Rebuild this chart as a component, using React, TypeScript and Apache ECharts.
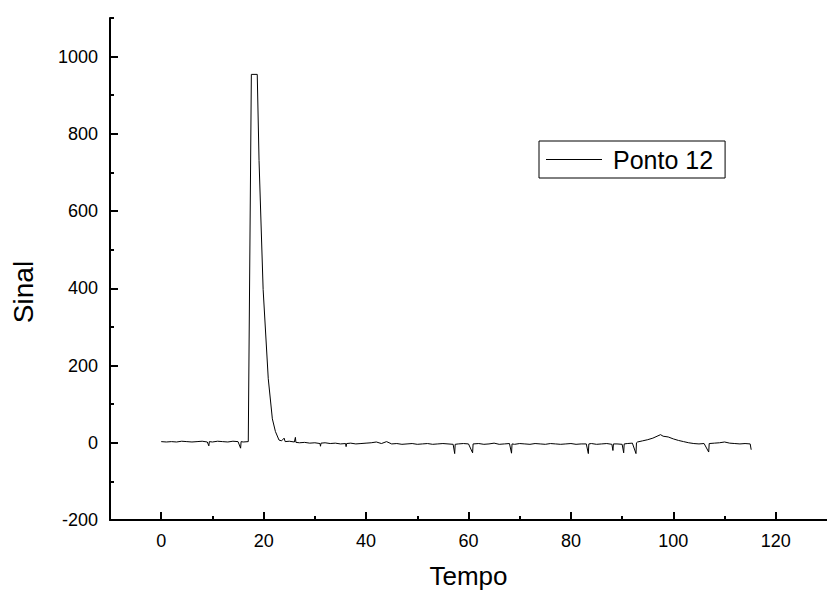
import React, { useEffect, useRef } from "react";
import * as echarts from "echarts";

// Time (x) and signal (y) values
const tempo: number[] = [
  0, 1, 2, 3, 4, 5, 6, 7, 8, 9,
  9.3, 9.4, 10, 11, 12, 13, 14, 15, 15.5, 15.6,
  16, 17, 17.6, 18.75, 19.1, 19.9, 20.9, 21.7, 22.3, 23,
  23.5, 24, 24.2, 25, 26, 26.2, 26.3, 27, 28, 29,
  30, 31, 31.1, 31.2, 32, 33, 34, 35, 36, 36.1,
  36.2, 37, 38, 39, 40, 41, 42, 43, 44, 45,
  46, 47, 48, 49, 50, 51, 52, 53, 54, 55,
  56, 57, 57.3, 57.4, 58, 59, 60, 60.8, 60.9, 62,
  63, 64, 65, 66, 67, 68, 68.4, 68.5, 69, 70,
  71, 72, 73, 74, 75, 76, 77, 78, 79, 80,
  81, 82, 83, 83.4, 83.5, 84, 85, 86, 87, 88,
  88.2, 88.3, 89, 90, 90.3, 90.4, 91, 92, 92.7, 92.8,
  93, 94, 95, 96, 97, 97.5, 98, 99, 100, 101,
  102, 103, 104, 105, 106, 106.9, 107, 108, 109, 110,
  111, 112, 113, 114, 115, 115.2,
];

const sinal: number[] = [
  3, 2, 3, 2, 4, 3, 2, 3, 4, 2,
  -8, 3, 2, 4, 3, 2, 4, 3, -14, 3,
  2, 3, 954, 954, 731, 397, 166, 62, 29, 7,
  5, 12, 3, 4, 2, 14, 1, 0, 1, -1,
  0, -2, -9, -1, 0, -2, -1, -3, -2, -10,
  -2, -1, -3, -2, -1, 0, 2, -2, 3, -3,
  -2, -4, -3, -2, -4, -3, -2, -4, -3, -2,
  -3, -4, -28, -4, -3, -2, -3, -26, -3, -2,
  -4, -3, -1, -4, -3, -2, -27, -3, -4, -2,
  -3, -4, -2, -3, -4, -2, -3, -4, -3, -2,
  -4, -3, -3, -28, -3, -2, -4, -3, -2, -4,
  -20, -3, -3, -4, -26, -3, -2, -1, -28, 0,
  2, 5, 8, 12, 18, 21, 17, 15, 10, 6,
  3, 0, -2, -3, -2, -24, -2, -1, 0, 2,
  -1, -2, -3, -2, -3, -18,
];

const xMajorTicks = [0, 20, 40, 60, 80, 100, 120];
const xMinorTicks = [10, 30, 50, 70, 90, 110];
const yMajorTicks = [-200, 0, 200, 400, 600, 800, 1000];
const yMinorTicks = [-100, 100, 300, 500, 700, 900, 1100];

const seriesName = "Ponto 12";
const xTitle = "Tempo";
const yTitle = "Sinal";
const FONT = "'Liberation Sans', Arial, sans-serif";

export default function App() {
  const ref = useRef<HTMLDivElement>(null);

  useEffect(() => {
    if (!ref.current) return;
    const chart = echarts.init(ref.current, null, { renderer: "svg" });
    const data = tempo.map((t, i) => [t, sinal[i]]);
    const axisLine = { show: true, onZero: false, lineStyle: { color: "#000", width: 2 } };
    const plain = (v: number) => String(v);
    chart.setOption({
      animation: false,
      backgroundColor: "#fff",
      grid: { left: 110, top: 18, width: 722, height: 504, containLabel: false },
      graphic: [
        {
          type: "text",
          x: 23,
          y: 292,
          rotation: Math.PI / 2,
          style: {
            text: yTitle,
            fontSize: 28,
            fontFamily: FONT,
            fill: "#000",
            align: "center",
            verticalAlign: "middle",
          },
        },
      ],
      legend: {
        left: 539,
        top: 141,
        orient: "horizontal",
        padding: [6, 12, 6, 7],
        borderColor: "#000",
        borderWidth: 1,
        borderRadius: 0,
        itemWidth: 56,
        itemHeight: 1,
        textStyle: { fontSize: 25, color: "#000", fontFamily: FONT, padding: [0, 0, 0, 6] },
        data: [{ name: seriesName, icon: "rect", itemStyle: { color: "#000" } }],
      },
      xAxis: [
        {
          type: "value",
          position: "bottom",
          min: -10,
          max: 130,
          interval: 10,
          name: xTitle,
          nameLocation: "middle",
          nameGap: 43,
          nameTextStyle: { fontSize: 26, color: "#000", fontFamily: FONT },
          axisLine,
          axisTick: { show: true, inside: true, length: 8, lineStyle: { color: "#000", width: 2 }, customValues: xMajorTicks },
          axisLabel: { show: true, fontSize: 18, color: "#000", fontFamily: FONT, margin: 12, formatter: plain, customValues: xMajorTicks },
          splitLine: { show: false },
        },
        {
          type: "value",
          position: "bottom",
          min: -10,
          max: 130,
          interval: 10,
          axisLine: { show: false, onZero: false },
          axisTick: { show: true, inside: true, length: 4, lineStyle: { color: "#000", width: 2 }, customValues: xMinorTicks },
          axisLabel: { show: false },
          splitLine: { show: false },
        },
      ],
      yAxis: [
        {
          type: "value",
          position: "left",
          min: -200,
          max: 1100,
          interval: 100,
          axisLine,
          axisTick: { show: true, inside: true, length: 8, lineStyle: { color: "#000", width: 2 }, customValues: yMajorTicks },
          axisLabel: { show: true, fontSize: 18, color: "#000", fontFamily: FONT, margin: 12, formatter: plain, customValues: yMajorTicks },
          splitLine: { show: false },
        },
        {
          type: "value",
          position: "left",
          min: -200,
          max: 1100,
          interval: 100,
          axisLine: { show: false, onZero: false },
          axisTick: { show: true, inside: true, length: 4, lineStyle: { color: "#000", width: 2 }, customValues: yMinorTicks },
          axisLabel: { show: false },
          splitLine: { show: false },
        },
      ],
      series: [
        {
          name: seriesName,
          type: "line",
          xAxisIndex: 0,
          yAxisIndex: 0,
          data,
          symbol: "none",
          showSymbol: false,
          lineStyle: { color: "#000", width: 1 },
          itemStyle: { color: "#000" },
        },
      ],
    });
    return () => chart.dispose();
  }, []);

  return (
    <div
      ref={ref}
      style={{ position: "fixed", left: 0, top: 0, width: 827, height: 594, background: "#fff" }}
    />
  );
}
